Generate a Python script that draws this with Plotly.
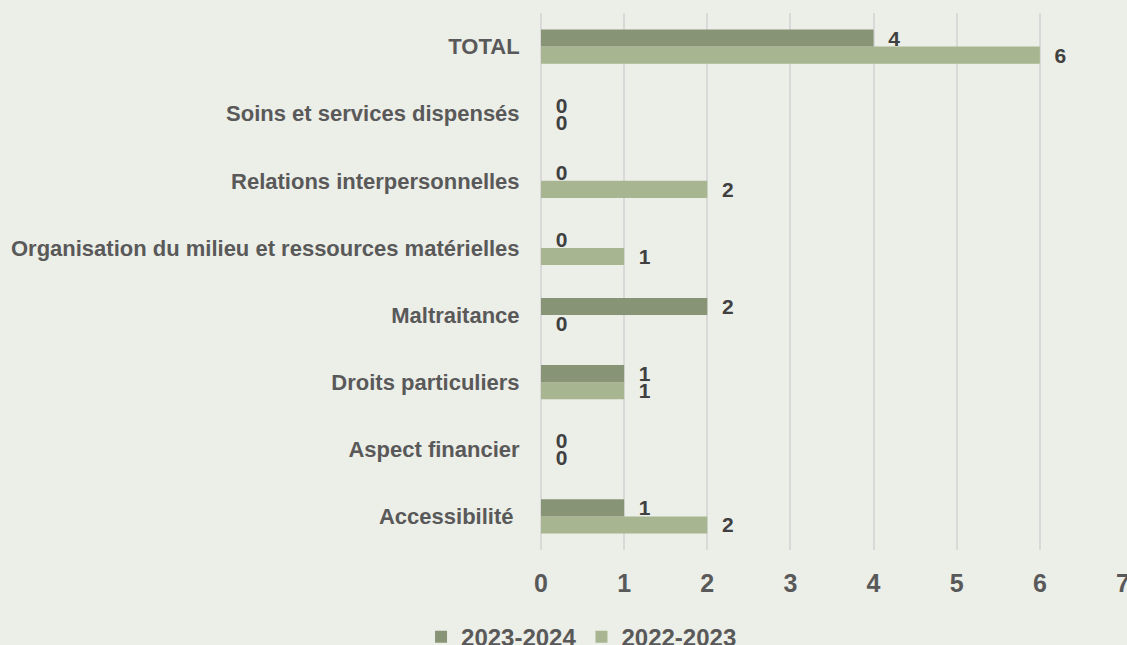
import plotly.graph_objects as go

categories = [
    "Accessibilité\u00a0",
    "Aspect financier",
    "Droits particuliers",
    "Maltraitance",
    "Organisation du milieu et ressources matérielles",
    "Relations interpersonnelles",
    "Soins et services dispensés",
    "TOTAL",
]
values_2023_2024 = [1, 0, 1, 2, 0, 0, 0, 4]
values_2022_2023 = [2, 0, 1, 0, 1, 2, 0, 6]
x_ticks = [0, 1, 2, 3, 4, 5, 6, 7]

FONT = "Liberation Sans"
BG = "#ECEEE8"
DARK = "#879476"
LIGHT = "#A7B690"
LABEL_FONT = dict(family=FONT, size=21, color="#404040", weight="bold")

fig = go.Figure()
fig.add_trace(go.Bar(
    y=categories, x=values_2022_2023, orientation="h", name="2022-2023",
    marker=dict(color=LIGHT, line=dict(width=0)),
    text=values_2022_2023, texttemplate="  %{x}", textposition="outside",
    textfont=LABEL_FONT, constraintext="none", cliponaxis=False, legendrank=2,
))
fig.add_trace(go.Bar(
    y=categories, x=values_2023_2024, orientation="h", name="2023-2024",
    marker=dict(color=DARK, line=dict(width=0)),
    text=values_2023_2024, texttemplate="  %{x}", textposition="outside",
    textfont=LABEL_FONT, constraintext="none", cliponaxis=False, legendrank=1,
))

fig.update_layout(
    width=1127, height=645,
    paper_bgcolor=BG, plot_bgcolor=BG,
    barmode="group", bargap=0.49, bargroupgap=0,
    margin=dict(l=541, r=4, t=13, b=95, autoexpand=False),
    font=dict(family=FONT, color="#595959"),
    legend=dict(
        orientation="h", xref="container", x=0.516, xanchor="center",
        yref="container", y=0.012, yanchor="middle",
        font=dict(family=FONT, size=24, color="#595959", weight="bold"),
        itemwidth=30, traceorder="normal",
    ),
    uniformtext=dict(mode=False),
)
fig.update_xaxes(
    range=[0, 7], tickvals=x_ticks, showgrid=True, gridcolor="#D9D9D9", gridwidth=2,
    zeroline=True, zerolinecolor="#D9D9D9", zerolinewidth=2,
    tickfont=dict(family=FONT, size=25, color="#595959", weight="bold"),
    ticks="outside", ticklen=11, tickcolor="rgba(0,0,0,0)",
    ticklabeloverflow="allow", automargin=False,
    showline=False, fixedrange=True,
)
fig.update_yaxes(
    categoryorder="array", categoryarray=categories,
    tickfont=dict(family=FONT, size=22, color="#595959", weight="bold"),
    ticks="outside", ticklen=16, tickcolor="rgba(0,0,0,0)",
    automargin=False,
    showgrid=False, showline=False, zeroline=False,
)

fig.write_html("out.html")
